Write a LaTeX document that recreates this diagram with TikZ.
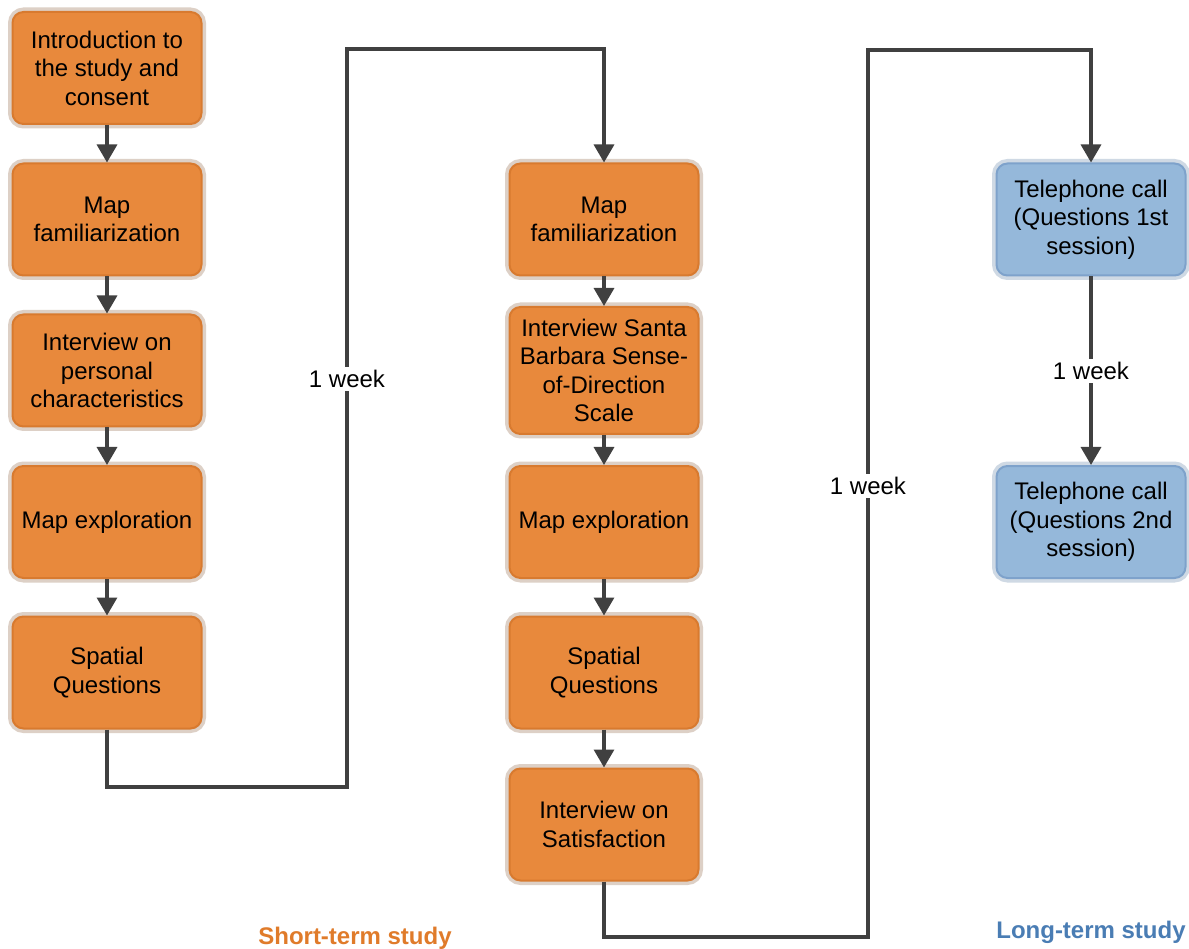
\documentclass[tikz,border=0pt]{standalone}
\usepackage{fontspec}
\setmainfont{Liberation Sans}
\usetikzlibrary{arrows.meta}

\definecolor{boxorange}{HTML}{E8893C}
\definecolor{edgeorange}{HTML}{D87A2F}
\definecolor{haloorange}{HTML}{DDD0C6}
\definecolor{boxblue}{HTML}{95B8DA}
\definecolor{edgeblue}{HTML}{7EA2CB}
\definecolor{haloblue}{HTML}{CFD9E4}
\definecolor{linegray}{HTML}{404040}
\definecolor{textorange}{HTML}{E07B2A}
\definecolor{textblue}{HTML}{4A7DB4}

\tikzset{
  boxbase/.style={rectangle, rounded corners=11pt, line width=2pt,
    minimum width=189pt, minimum height=112pt, align=center, inner sep=2pt,
    font=\fontsize{24}{28.5}\selectfont},
  stage/.style={boxbase, fill=boxorange, draw=edgeorange,
    preaction={draw=haloorange, line width=9pt}},
  call/.style={boxbase, fill=boxblue, draw=edgeblue,
    preaction={draw=haloblue, line width=9pt}},
  flow/.style={draw=linegray, line width=3.3pt, -{Triangle[width=20pt,length=18pt]}},
  gaplabel/.style={fill=white, inner sep=3pt, font=\fontsize{24}{28.5}\selectfont},
  phase/.style={font=\fontsize{24}{28.5}\selectfont\bfseries}
}

\begin{document}
\begin{tikzpicture}[x=1pt,y=-1pt]
    \useasboundingbox[fill=white] (0,0) rectangle (1189,949);

    % short-term study, first session
    \node[stage] (intro) at (107,68) {Introduction to\\the study and\\consent};
    \node[stage] (famA) at (107,219.5) {Map\\familiarization};
    \node[stage] (persA) at (107,370.5) {Interview on\\personal\\characteristics};
    \node[stage] (explA) at (107,522) {Map exploration};
    \node[stage] (spatA) at (107,672.5) {Spatial\\Questions};

    \draw[flow] (intro.south) -- (famA.north);
    \draw[flow] (famA.south) -- (persA.north);
    \draw[flow] (persA.south) -- (explA.north);
    \draw[flow] (explA.south) -- (spatA.north);

    % short-term study, second session
    \node[stage] (famB) at (604,219.5) {Map\\familiarization};
    \node[stage, minimum height=127pt] (sbsod) at (604,370.5) {Interview Santa\\Barbara Sense-\\of-Direction\\Scale};
    \node[stage] (explB) at (604,522) {Map exploration};
    \node[stage] (spatB) at (604,672.5) {Spatial\\Questions};
    \node[stage] (satis) at (604,824.5) {Interview on\\Satisfaction};

    \draw[flow] (famB.south) -- (sbsod.north);
    \draw[flow] (sbsod.south) -- (explB.north);
    \draw[flow] (explB.south) -- (spatB.north);
    \draw[flow] (spatB.south) -- (satis.north);

    % long-term study
    \node[call] (telA) at (1091,219.5) {Telephone call\\(Questions 1st\\session)};
    \node[call] (telB) at (1091,522) {Telephone call\\(Questions 2nd\\session)};

    \draw[flow] (telA.south) -- node[gaplabel] (wkC) {1 week} (telB.north);

    % one week between the columns
    \coordinate (lowA) at (347,787);
    \coordinate (topA) at (347,49);
    \draw[flow] (spatA.south) |- (lowA) -- (topA) -| (famB.north);
    \node[gaplabel] (wkA) at (347,379) {1 week};

    \coordinate (lowB) at (868,937);
    \coordinate (topB) at (868,50);
    \draw[flow] (satis.south) |- (lowB) -- (topB) -| (telA.north);
    \node[gaplabel] (wkB) at (868,486) {1 week};

    \node[phase, text=textorange] (short) at (355,938) {Short-term study};
    \node[phase, text=textblue] (long) at (1091,932) {Long-term study};
\end{tikzpicture}
\end{document}
